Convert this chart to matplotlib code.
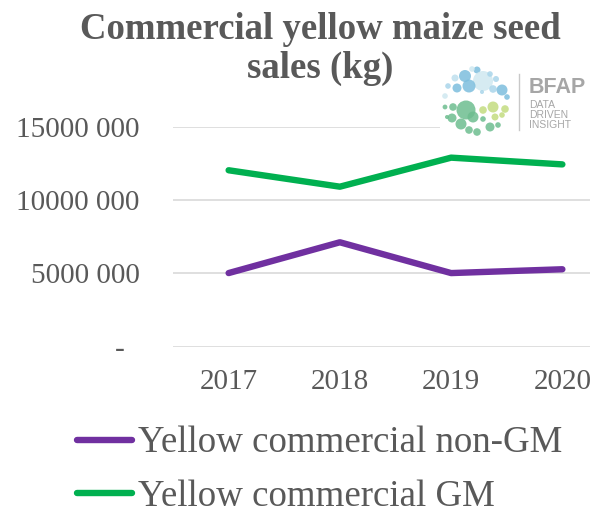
import matplotlib
matplotlib.use("Agg")
import matplotlib.pyplot as plt
from matplotlib.patches import Circle

# data
years = ["2017", "2018", "2019", "2020"]
non_gm = [5020000, 7120000, 5020000, 5280000]
gm = [12030000, 10910000, 12890000, 12430000]
y_ticks = [0, 5000000, 10000000, 15000000]
y_labels = ["-  ", "5000 000", "10000 000", "15000 000"]
series_names = ["Yellow commercial non-GM", "Yellow commercial GM"]

# logo dots: (x, y, radius, colour) in logo pixel units
logo_dots = [
    (25, 14, 6.0, "#7dbedd"), (37, 8, 3.5, "#7dbedd"), (43, 19, 10.0, "#cfe8f0"),
    (29, 24, 6.5, "#7dbedd"), (17, 26, 4.5, "#7dbedd"), (8, 24, 2.8, "#a9d5ea"),
    (15, 16, 3.5, "#bfe0ee"), (53, 27, 3.8, "#a9d5ea"), (56, 17, 3.0, "#a9d5ea"),
    (62, 28, 5.5, "#7dbedd"), (67, 35, 2.8, "#7dbedd"), (5, 34, 2.8, "#cfe8f0"),
    (32, 7, 2.8, "#cfe8f0"), (50, 12, 2.8, "#a9d5ea"), (42, 30, 2.0, "#a9d5ea"),
    (26, 48, 9.5, "#6dbd8f"), (13, 45, 3.8, "#6dbd8f"), (5, 45, 2.4, "#6dbd8f"),
    (12, 56, 4.5, "#6dbd8f"), (21, 62, 5.5, "#6dbd8f"), (33, 55, 5.5, "#6dbd8f"),
    (29, 68, 3.8, "#6dbd8f"), (37, 70, 3.8, "#6dbd8f"), (43, 57, 2.8, "#6dbd8f"),
    (50, 65, 4.5, "#6dbd8f"), (43, 48, 3.8, "#c3dc80"), (53, 45, 5.5, "#c3dc80"),
    (65, 47, 3.8, "#c3dc80"), (62, 53, 2.8, "#c3dc80"), (55, 55, 3.5, "#c3dc80"),
    (58, 63, 2.8, "#6dbd8f"), (7, 55, 2.0, "#6dbd8f"),
]

gray = "#595959"
serif = ["Liberation Serif", "DejaVu Serif"]

W, H = 590, 513
fig = plt.figure(figsize=(W / 100, H / 100), dpi=100)

ax = fig.add_axes([173 / W, 1 - 346.7 / H, (618 - 173) / W, (346.7 - 126.7) / H])
x = list(range(len(years)))
ax.plot(x, non_gm, color="#7030a0", lw=4.6, solid_capstyle="round",
        solid_joinstyle="round", label=series_names[0], zorder=3)
ax.plot(x, gm, color="#00b050", lw=4.6, solid_capstyle="round",
        solid_joinstyle="round", label=series_names[1], zorder=3)
ax.set_xlim(-0.5, len(years) - 0.5)
ax.set_ylim(0, 15000000)
ax.set_yticks(y_ticks)
ax.set_yticklabels(y_labels)
ax.set_xticks(x)
ax.set_xticklabels(years)
for v in y_ticks:
    ax.axhline(v, color="#d9d9d9", lw=1.2, zorder=1)
for s in ax.spines.values():
    s.set_visible(False)
ax.tick_params(axis="y", length=0, pad=24, labelsize=21, labelcolor=gray)
ax.tick_params(axis="x", length=0, pad=16, labelsize=21, labelcolor=gray)
for lab in ax.get_xticklabels() + ax.get_yticklabels():
    lab.set_family(serif)

# title
fig.text(320 / W, 1 - 39 / H, "Commercial yellow maize seed", ha="center",
         va="baseline", fontsize=26.5, fontweight="bold", color=gray, family=serif)
fig.text(320 / W, 1 - 78 / H, "sales (kg)", ha="center",
         va="baseline", fontsize=26.5, fontweight="bold", color=gray, family=serif)

# legend
fig.legend(loc="upper left", bbox_to_anchor=(77 / W, 1 - 426 / H), frameon=False,
           prop={"family": serif, "size": 26.6}, labelcolor=gray,
           handlelength=1.5, handletextpad=0.14, labelspacing=0.52,
           borderpad=0, borderaxespad=0)

# logo
lax = fig.add_axes([440 / W, 1 - 140 / H, 150 / W, 78 / H], zorder=5)
lax.set_xlim(0, 150)
lax.set_ylim(78, 0)
lax.axis("off")
lax.add_patch(plt.Rectangle((0, 0), 150, 78, color="white", zorder=0))
for dx, dy, r, c in logo_dots:
    lax.add_patch(Circle((dx, dy), r, color=c, alpha=0.85, lw=0))
lax.plot([79, 79], [12, 68], color="#c8c8c8", lw=1)
sans = ["Liberation Sans", "DejaVu Sans"]
lax.text(89, 31, "BFAP", fontsize=15.5, fontweight="bold", color="#a6a6a6",
         family=sans, va="baseline", ha="left")
for i, w in enumerate(["DATA", "DRIVEN", "INSIGHT"]):
    lax.text(89, 46 + i * 10, w, fontsize=7.5, color="#a6a6a6",
             family=sans, va="baseline", ha="left")

fig.savefig("out.png", dpi=100)
